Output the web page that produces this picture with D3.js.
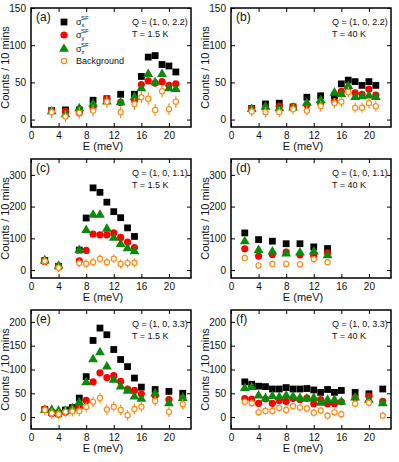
<!DOCTYPE html>
<html>
<head>
<meta charset="utf-8">
<script src="https://cdn.jsdelivr.net/npm/d3@7"></script>
<style>
  body { margin: 0; background: #fff; }
  text { font-family: "Liberation Sans", Arial, sans-serif; fill: #111; }
</style>
</head>
<body>
<svg id="chart" width="399" height="462"></svg>
<script>
// ---- data ----
var xTicks = [0, 4, 8, 12, 16, 20];

// (a) Q=(1,0,2.2) T=1.5 K
var aE  = [3, 5, 7, 9, 11, 13, 15, 16, 17, 18, 19, 20, 21];
var aSx = [12, 13, 13, 26, 28, 34, 34, 58, 84, 86, 74, 72, 64];
var aSy = [12, 11, 9, 16, 28, 23, 26, 47, 52, 49, 51, 46, 48];
var aSz = [11, 7, 15, 21, 24, 23, 30, 42, 61, 50, 61, 42, 41];
var aBg = [10, 4, 9, 12, 24, 10, 21, 30, 28, 13, 38, 14, 24];
var aErr = [4, 3, 3, 8];

// (b) Q=(1,0,2.2) T=40 K
var bE  = [3, 5, 7, 9, 11, 13, 15, 16, 17, 18, 19, 20, 21];
var bSx = [15, 21, 22, 17, 30, 32, 32, 48, 53, 51, 46, 51, 46];
var bSy = [15, 16, 18, 17, 20, 22, 24, 38, 43, 36, 34, 41, 33];
var bSz = [14, 17, 15, 16, 22, 26, 36, 34, 45, 30, 31, 32, 30];
var bBg = [11, 10, 10, 14, 12, 18, 22, 24, 37, 16, 16, 22, 18];
var bErr = [4, 3, 3, 7];

// (c) Q=(1,0,1.1) T=1.5 K
var cE  = [2, 4, 7, 8, 9, 10, 11, 12, 13, 14, 15];
var cSx = [30, 12, 63, 164, 259, 245, 214, 184, 165, 133, 106];
var cSy = [27, 12, 29, 62, 113, 111, 111, 117, 103, 88, 71];
var cSz = [30, 13, 63, 126, 174, 174, 130, 101, 82, 68, 59];
var cBg = [28, 7, 22, 20, 25, 36, 25, 36, 19, 22, 23];
var cErr = [8, 6, 6, 14];

// (d) Q=(1,0,1.1) T=40 K
var dE  = [2, 4, 6, 8, 10, 12, 14];
var dSx = [117, 96, 91, 83, 83, 73, 68];
var dSy = [67, 44, 49, 57, 48, 46, 54];
var dSz = [90, 63, 58, 52, 55, 58, 46];
var dBg = [38, 14, 19, 19, 18, 34, 25];
var dErr = [6, 5, 5, 10];

// (e) Q=(1,0,3.3) T=1.5 K
var eE  = [2, 3, 4, 5, 6, 7, 8, 9, 10, 11, 12, 13, 14, 15, 16, 18, 20, 22];
var eSx = [16, 9, 8, 15, 20, 40, 85, 161, 187, 173, 142, 121, 106, 82, 63, 58, 54, 50];
var eSy = [17, 8, 6, 10, 15, 21, 35, 74, 93, 83, 87, 75, 59, 56, 49, 45, 37, 40];
var eSz = [15, 15, 13, 13, 18, 31, 73, 121, 136, 106, 78, 64, 55, 43, 38, 49, 29, 40];
var eBg = [15, 8, 6, 11, 12, 13, 21, 32, 40, 16, 22, 15, 4, 17, 22, 34, 11, 27];
var eErr = [6, 4, 4, 11];

// (f) Q=(1,0,3.3) T=40 K
var fE  = [2, 3, 4, 5, 6, 7, 8, 9, 10, 11, 12, 13, 14, 15, 16, 18, 20, 22];
var fSx = [74, 69, 65, 64, 59, 59, 62, 59, 59, 60, 57, 52, 58, 52, 56, 52, 49, 59];
var fSy = [39, 38, 29, 38, 29, 35, 33, 39, 37, 40, 28, 37, 28, 28, 32, 41, 44, 33];
var fSz = [61, 63, 45, 39, 44, 42, 45, 43, 40, 38, 40, 30, 36, 36, 32, 41, 36, 29];
var fBg = [32, 29, 10, 13, 13, 19, 15, 23, 20, 18, 9, 14, 3, 10, 6, 28, 30, 3];
var fErr = [4, 4, 4, 8];

var panels = [
  {label: "(a)", E: aE, sx: aSx, sy: aSy, sz: aSz, bg: aBg, err: aErr, yDom: [-10, 150], yTicks: [0, 50, 100, 150], q: "Q = (1, 0, 2.2)", t: "T = 1.5 K", legend: true},
  {label: "(b)", E: bE, sx: bSx, sy: bSy, sz: bSz, bg: bBg, err: bErr, yDom: [-10, 150], yTicks: [0, 50, 100, 150], q: "Q = (1, 0, 2.2)", t: "T = 40 K"},
  {label: "(c)", E: cE, sx: cSx, sy: cSy, sz: cSz, bg: cBg, err: cErr, yDom: [-25, 350], yTicks: [0, 100, 200, 300], q: "Q = (1, 0, 1.1)", t: "T = 1.5 K"},
  {label: "(d)", E: dE, sx: dSx, sy: dSy, sz: dSz, bg: dBg, err: dErr, yDom: [-25, 350], yTicks: [0, 100, 200, 300], q: "Q = (1, 0, 1.1)", t: "T = 40 K"},
  {label: "(e)", E: eE, sx: eSx, sy: eSy, sz: eSz, bg: eBg, err: eErr, yDom: [-25, 225], yTicks: [0, 50, 100, 150, 200], q: "Q = (1, 0, 3.3)", t: "T = 1.5 K"},
  {label: "(f)", E: fE, sx: fSx, sy: fSy, sz: fSz, bg: fBg, err: fErr, yDom: [-25, 225], yTicks: [0, 50, 100, 150, 200], q: "Q = (1, 0, 3.3)", t: "T = 40 K"}
];

// ---- layout ----
var svg = d3.select("#chart");
var W = 160, H = 119;
var colX = [31, 231], rowY = [8, 159, 310];

var cBlack = "#000", cRed = "#ff0000", cGreen = "#0a8a0a", cOrange = "#ff8c1a";

var tri = d3.symbol().type(d3.symbolTriangle).size(42);
var sq = d3.symbol().type(d3.symbolSquare).size(46);

panels.forEach(function(p, i) {
  var g = svg.append("g")
    .attr("transform", "translate(" + colX[i % 2] + "," + rowY[Math.floor(i / 2)] + ")");

  var x = d3.scaleLinear().domain([0, 23.2]).range([0, W]);
  var y = d3.scaleLinear().domain(p.yDom).range([H, 0]);

  // axes, ticks pointing inward, mirrored top/right
  var xb = g.append("g").attr("transform", "translate(0," + H + ")")
    .call(d3.axisBottom(x).tickValues(xTicks).tickSize(-4).tickPadding(5));
  g.append("g").call(d3.axisTop(x).tickValues(xTicks).tickSize(-4).tickFormat(""));
  var yl = g.append("g")
    .call(d3.axisLeft(y).tickValues(p.yTicks).tickSize(-4).tickPadding(5));
  g.append("g").attr("transform", "translate(" + W + ",0)")
    .call(d3.axisRight(y).tickValues(p.yTicks).tickSize(-4).tickFormat(""));
  g.selectAll(".domain").remove();
  g.selectAll(".tick line").attr("stroke", "#000").attr("stroke-width", 1);
  g.selectAll(".tick text").attr("font-size", 10).attr("fill", "#222")
    .attr("font-family", "Liberation Sans, Arial, sans-serif");

  g.append("rect").attr("width", W).attr("height", H)
    .attr("fill", "none").attr("stroke", "#000").attr("stroke-width", 1.5);

  // axis titles
  g.append("text").attr("x", W / 2 - 8).attr("y", H + 23)
    .attr("text-anchor", "middle").attr("font-size", 11).text("E (meV)");
  g.append("text")
    .attr("transform", "translate(-22," + (H / 2) + ") rotate(-90)")
    .attr("text-anchor", "middle").attr("font-size", 11).text("Counts / 10 mins");

  // annotations
  g.append("text").attr("x", 5).attr("y", 13).attr("font-size", 12).text(p.label);
  g.append("text").attr("x", 101).attr("y", 17).attr("font-size", 9).text(p.q);
  g.append("text").attr("x", 101).attr("y", 29).attr("font-size", 9).text(p.t);

  var series = [
    {v: p.sx, e: p.err[0], c: cBlack, kind: "sq"},
    {v: p.sy, e: p.err[1], c: cRed, kind: "circ"},
    {v: p.sz, e: p.err[2], c: cGreen, kind: "tri"},
    {v: p.bg, e: p.err[3], c: cOrange, kind: "open"}
  ];

  series.forEach(function(s) {
    var pts = p.E.map(function(e, k) { return {e: e, v: s.v[k]}; });
    var sg = g.append("g");
    sg.selectAll("line").data(pts).enter().append("line")
      .attr("x1", function(d) { return x(d.e); })
      .attr("x2", function(d) { return x(d.e); })
      .attr("y1", function(d) { return y(d.v - s.e); })
      .attr("y2", function(d) { return y(d.v + s.e); })
      .attr("stroke", s.c).attr("stroke-width", 1.2);
    if (s.kind == "circ" || s.kind == "open") {
      sg.selectAll("circle").data(pts).enter().append("circle")
        .attr("cx", function(d) { return x(d.e); })
        .attr("cy", function(d) { return y(d.v); })
        .attr("r", s.kind == "circ" ? 3.6 : 2.6)
        .attr("fill", s.kind == "circ" ? s.c : "#fff")
        .attr("stroke", s.c).attr("stroke-width", s.kind == "circ" ? 0 : 1.2);
    } else {
      sg.selectAll("path").data(pts).enter().append("path")
        .attr("d", s.kind == "sq" ? sq : tri)
        .attr("transform", function(d) { return "translate(" + x(d.e) + "," + y(d.v) + ")"; })
        .attr("fill", s.c);
    }
  });

  if (p.legend) {
    var leg = g.append("g");
    var rows = [
      {c: cBlack, kind: "sq", sub: "x", y: 14},
      {c: cRed, kind: "circ", sub: "y", y: 27},
      {c: cGreen, kind: "tri", sub: "z", y: 41},
      {c: cOrange, kind: "open", text: "Background", y: 53}
    ];
    rows.forEach(function(r) {
      var mx = 33;
      if (r.kind == "sq") leg.append("path").attr("d", sq).attr("transform", "translate(" + mx + "," + r.y + ")").attr("fill", r.c);
      if (r.kind == "tri") leg.append("path").attr("d", tri).attr("transform", "translate(" + mx + "," + r.y + ")").attr("fill", r.c);
      if (r.kind == "circ") leg.append("circle").attr("cx", mx).attr("cy", r.y).attr("r", 3.6).attr("fill", r.c);
      if (r.kind == "open") leg.append("circle").attr("cx", mx).attr("cy", r.y).attr("r", 2.6).attr("fill", "#fff").attr("stroke", r.c).attr("stroke-width", 1.2);
      var t = leg.append("text").attr("x", 45).attr("y", r.y + 3).attr("font-size", 9);
      if (r.text) {
        t.text(r.text);
      } else {
        t.append("tspan").text("σ");
        t.append("tspan").attr("font-size", 6).attr("dy", 2).text(r.sub);
        t.append("tspan").attr("font-size", 6).attr("dx", -3.5).attr("dy", -7).text("SF");
      }
    });
  }
});
</script>
</body>
</html>
